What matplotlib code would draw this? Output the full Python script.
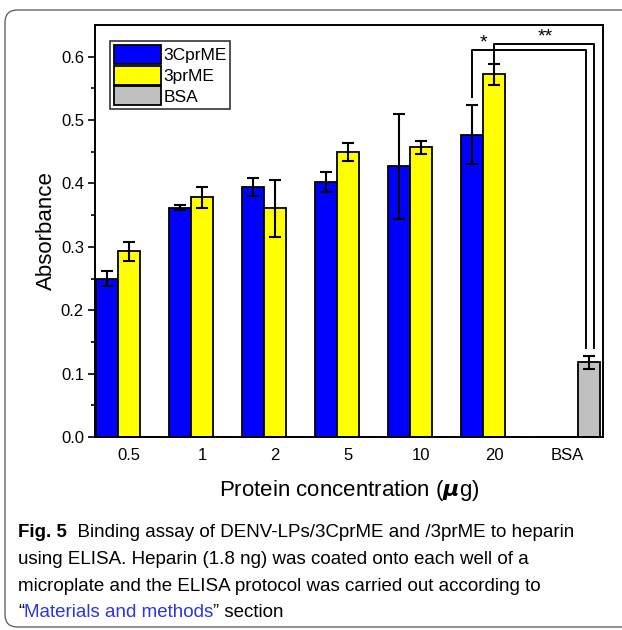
import matplotlib
matplotlib.use('Agg')
import matplotlib.pyplot as plt
from matplotlib.patches import FancyBboxPatch
import numpy as np

groups = ['0.5', '1', '2', '5', '10', '20', 'BSA']
cprme = [0.250, 0.362, 0.395, 0.402, 0.427, 0.477, 0.0]
cprme_err = [0.012, 0.004, 0.014, 0.016, 0.083, 0.046, 0.0]
prme = [0.293, 0.378, 0.361, 0.450, 0.457, 0.572, 0.0]
prme_err = [0.015, 0.016, 0.045, 0.014, 0.010, 0.016, 0.0]
bsa = [0.0, 0.0, 0.0, 0.0, 0.0, 0.0, 0.118]
bsa_err = [0.0, 0.0, 0.0, 0.0, 0.0, 0.0, 0.010]

plt.rcParams['font.family'] = ['Liberation Sans', 'DejaVu Sans']

W, H = 622, 630
fig = plt.figure(figsize=(W / 100, H / 100), dpi=100)

# rounded frame around the whole figure
frame = FancyBboxPatch((5 / W, 3 / H), 640 / W, 617 / H,
                       boxstyle='round,pad=0,rounding_size=0.02',
                       transform=fig.transFigure, fill=False,
                       edgecolor='#555555', linewidth=0.9)
fig.patches.append(frame)

ax = fig.add_axes([95 / W, 1 - 437 / H, 508 / W, 412 / H])

x = np.arange(len(groups))
bw = 0.3
series = [(cprme, cprme_err, '#0000ff', '3CprME', -bw),
          (prme, prme_err, '#ffff00', '3prME', 0.0),
          (bsa, bsa_err, '#c0c0c0', 'BSA', bw)]

for vals, errs, col, lab, off in series:
    ax.bar(x + off, vals, bw, color=col, edgecolor='black', linewidth=1.3,
           label=lab, zorder=2)
    v = np.array(vals)
    e = np.array(errs)
    m = v > 0
    ax.errorbar(x[m] + off, v[m], yerr=e[m], fmt='none', ecolor='black',
                elinewidth=1.5, capsize=4, capthick=1.5, zorder=3)

# significance brackets
lw = 1.4
ax.plot([x[5] - bw, x[5] - bw, x[6] + bw - 0.04, x[6] + bw - 0.04],
        [0.537, 0.611, 0.611, 0.140], color='black', lw=lw, zorder=4)
ax.plot([x[5], x[5], x[6] + bw + 0.06, x[6] + bw + 0.06],
        [0.591, 0.620, 0.620, 0.140], color='black', lw=lw, zorder=4)
ax.text(x[5] - 0.15, 0.608, '*', ha='center', va='bottom', fontsize=14)
ax.text(x[6] - 0.3, 0.617, '**', ha='center', va='bottom', fontsize=14)

ax.set_xlim(-0.47, 6.49)
ax.set_ylim(0, 0.65)
ax.set_yticks(np.arange(0, 0.61, 0.1))
ax.set_yticks(np.arange(0.05, 0.65, 0.1), minor=True)
ax.set_xticks(x)
ax.set_xticklabels(groups)
ax.tick_params(axis='y', which='major', direction='out', length=5, width=1.2,
               labelsize=12, pad=3)
ax.tick_params(axis='y', which='minor', direction='out', length=3, width=1.2)
ax.tick_params(axis='x', length=0, labelsize=12, pad=8)
ax.yaxis.set_major_formatter(matplotlib.ticker.FormatStrFormatter('%.1f'))
for s in ax.spines.values():
    s.set_linewidth(1.4)

ax.set_ylabel('Absorbance', fontsize=16, labelpad=3)
ax.set_xlabel(r'Protein concentration ($\boldsymbol{\mu}$g)', fontsize=16,
              labelpad=11)

leg = ax.legend(loc='upper left', bbox_to_anchor=(0.03, 0.96), fontsize=12.5,
                frameon=True, fancybox=False, edgecolor='black',
                handlelength=2.7, handleheight=1.3, handletextpad=0.15,
                labelspacing=0.1, borderpad=0.2, borderaxespad=0)
leg.get_frame().set_linewidth(1.2)

# caption
cap_fs = 13.5
lines_y = [537, 564, 591, 617]
t = fig.text(18 / W, 1 - lines_y[0] / H, 'Fig. 5', fontsize=cap_fs,
             fontweight='bold', va='baseline')
ax.annotate('  Binding assay of DENV-LPs/3CprME and /3prME to heparin',
            xy=(1, 0), xycoords=t, fontsize=cap_fs, va='bottom',
            annotation_clip=False)
fig.text(18 / W, 1 - lines_y[1] / H,
         'using ELISA. Heparin (1.8 ng) was coated onto each well of a',
         fontsize=cap_fs, va='baseline')
fig.text(18 / W, 1 - lines_y[2] / H,
         'microplate and the ELISA protocol was carried out according to',
         fontsize=cap_fs, va='baseline')
q = fig.text(18 / W, 1 - lines_y[3] / H, '\u201c', fontsize=cap_fs,
             va='baseline')
m = ax.annotate('Materials and methods', xy=(1, 0), xycoords=q,
                fontsize=cap_fs, va='bottom', color='#2b35e6',
                annotation_clip=False)
ax.annotate('\u201d section', xy=(1, 0), xycoords=m, fontsize=cap_fs,
            va='bottom', annotation_clip=False)

fig.savefig('out.png', dpi=100)
